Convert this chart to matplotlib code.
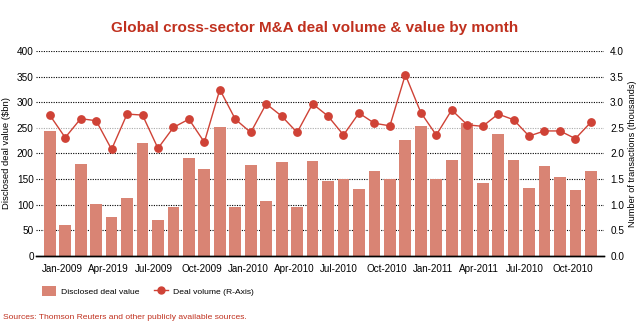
import matplotlib
matplotlib.use("Agg")
import matplotlib.pyplot as plt
from matplotlib.patches import Patch
from matplotlib.lines import Line2D

plt.rcParams['font.family'] = ['Liberation Sans', 'DejaVu Sans']

deal_value = [243, 60, 179, 101, 75, 112, 221, 70, 95, 192, 169, 251,
              95, 177, 108, 183, 95, 186, 147, 151, 130, 165, 151, 227,
              254, 151, 188, 260, 143, 239, 188, 132, 175, 153, 128, 165]
deal_volume = [2.75, 2.31, 2.68, 2.64, 2.08, 2.77, 2.75, 2.10, 2.51, 2.67, 2.22, 3.25,
               2.67, 2.41, 2.97, 2.73, 2.41, 2.97, 2.73, 2.36, 2.79, 2.59, 2.54, 3.54,
               2.80, 2.36, 2.85, 2.56, 2.53, 2.77, 2.66, 2.34, 2.44, 2.44, 2.29, 2.61]
tick_labels = ["Jan-2009", "Apr-2019", "Jul-2009", "Oct-2009", "Jan-2010", "Apr-2010",
               "Jul-2010", "Oct-2010", "Jan-2011", "Apr-2011", "Jul-2010", "Oct-2010"]
left_ticks = [0, 50, 100, 150, 200, 250, 300, 350, 400]
right_ticks = [0.0, 0.5, 1.0, 1.5, 2.0, 2.5, 3.0, 3.5, 4.0]

bar_color = '#D98474'
line_color = '#CF4236'
red_text = '#C0301E'

fig = plt.figure(figsize=(6.4, 3.3), dpi=100)
ax = fig.add_axes([0.056, 0.225, 0.888, 0.62])
ax2 = ax.twinx()

x = list(range(len(deal_value)))
ax.bar(x, deal_value, width=0.76, color=bar_color, zorder=2)
ax.set_xlim(-0.9, 35.86)
ax.set_ylim(0, 400)
ax.set_yticks(left_ticks)
ax.set_yticklabels([str(t) for t in left_ticks])
ax.set_axisbelow(True)
ax.grid(axis='y', color='black', linestyle=(0, (1, 1.2)), linewidth=0.8)
for t, gl in zip(left_ticks, ax.yaxis.get_gridlines()):
    if t == 250:
        gl.set_color('#AAAAAA')
    if t == 0:
        gl.set_visible(False)

xt = x[::3]
ax.set_xticks([i - 0.5 for i in xt])
ax.set_xticklabels(tick_labels, ha='left')
ax.tick_params(axis='x', length=0, pad=6, labelsize=7.1)
ax.tick_params(axis='y', length=0, pad=1.5, labelsize=7.2)

ax2.plot(x, deal_volume, color=line_color, linewidth=1.0, marker='o',
         markersize=5.3, zorder=3)
ax2.set_ylim(0, 4.0)
ax2.set_yticks(right_ticks)
ax2.set_yticklabels([f"{t:.1f}" for t in right_ticks])
ax2.tick_params(axis='y', length=0, pad=4.3, labelsize=7.2)

for a in (ax, ax2):
    for s in ('left', 'right', 'top'):
        a.spines[s].set_visible(False)
    a.spines['bottom'].set_linewidth(1.0)

ax.set_ylabel("Disclosed deal value ($bn)", fontsize=6.8, labelpad=4)
ax2.set_ylabel("Number of transactions (thousands)", fontsize=6.6, labelpad=3)

fig.text(0.491, 0.915, "Global cross-sector M&A deal volume & value by month",
         ha='center', va='center', color=red_text, fontsize=11, fontweight='bold')

handles = [Patch(facecolor=bar_color, edgecolor='none'),
           Line2D([0], [0], color=line_color, marker='o', markersize=5, linewidth=1.0)]
fig.legend(handles, ["Disclosed deal value", "Deal volume (R-Axis)"],
           loc='center left', bbox_to_anchor=(42 / 640, 0.118), ncol=2, frameon=False,
           fontsize=6.1, handlelength=1.6, handleheight=1.45, columnspacing=1.8,
           handletextpad=0.6, borderpad=0, borderaxespad=0)

fig.text(0.004, 0.0385, "Sources: Thomson Reuters and other publicly available sources.",
         ha='left', va='center', color=red_text, fontsize=6.1)

fig.savefig("out.png", dpi=100)
